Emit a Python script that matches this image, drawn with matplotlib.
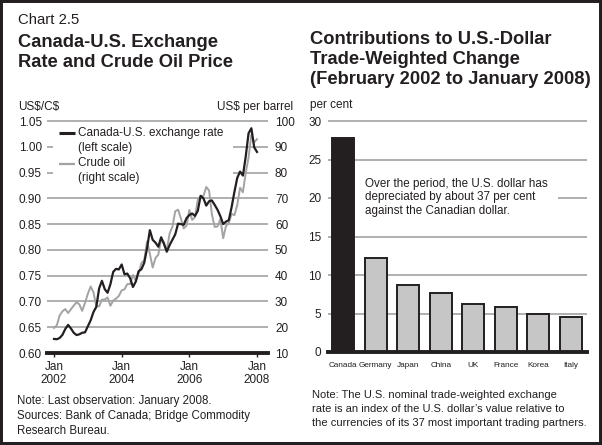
import matplotlib
matplotlib.use('Agg')
import matplotlib.pyplot as plt
import numpy as np
from matplotlib.lines import Line2D
from matplotlib.patches import Rectangle

plt.rcParams['font.family'] = ['Liberation Sans', 'DejaVu Sans']

# ---------------- data ----------------
# monthly, Jan 2002 .. Jan 2008 (index 0..72)
cad_usd = [
    0.6273, 0.6267, 0.6291, 0.6353, 0.6466, 0.6545, 0.6476, 0.6392, 0.6348, 0.6363, 0.6392, 0.6401,
    0.6517, 0.6634, 0.6795, 0.6893, 0.7252, 0.7400, 0.7238, 0.7168, 0.7333, 0.7574, 0.7632, 0.7621,
    0.7717, 0.7526, 0.7541, 0.7451, 0.7280, 0.7384, 0.7586, 0.7624, 0.7749, 0.8030, 0.8383, 0.8195,
    0.8140, 0.8061, 0.8245, 0.8115, 0.7965, 0.8092, 0.8198, 0.8301, 0.8509, 0.8501, 0.8486, 0.8614,
    0.8676, 0.8706, 0.8658, 0.8758, 0.9048, 0.9000, 0.8859, 0.8943, 0.8959, 0.8872, 0.8777, 0.8654,
    0.8502, 0.8548, 0.8577, 0.8831, 0.9128, 0.9398, 0.9519, 0.9441, 0.9810, 1.0261, 1.0360, 0.9990,
    0.9900,
]
crude_oil = [
    19.71, 20.72, 24.53, 26.18, 27.04, 25.52, 26.97, 28.39, 29.66, 28.84, 26.35, 29.46,
    32.95, 35.83, 33.51, 28.17, 28.11, 30.66, 30.76, 31.57, 28.31, 30.34, 31.11, 32.13,
    34.31, 34.69, 36.74, 36.75, 40.28, 38.03, 40.78, 44.90, 45.94, 53.28, 48.47, 43.15,
    46.84, 48.15, 54.19, 52.98, 49.83, 56.35, 59.00, 64.99, 65.59, 62.26, 58.32, 59.41,
    65.49, 61.63, 62.69, 69.44, 70.84, 70.95, 74.41, 73.04, 63.80, 58.89, 59.08, 61.96,
    54.51, 59.28, 60.44, 63.98, 63.46, 67.49, 74.12, 72.36, 79.92, 85.80, 94.77, 91.69,
    92.97,
]
months = np.arange(len(cad_usd))
year_ticks = [0, 24, 48, 72]
year_labels = ['Jan\n2002', 'Jan\n2004', 'Jan\n2006', 'Jan\n2008']
left_ticks = [0.60, 0.65, 0.70, 0.75, 0.80, 0.85, 0.90, 0.95, 1.00, 1.05]
right_ticks = [10, 20, 30, 40, 50, 60, 70, 80, 90, 100]

countries = ['Canada', 'Germany', 'Japan', 'China', 'UK', 'France', 'Korea', 'Italy']
contributions = [27.8, 12.2, 8.7, 7.6, 6.2, 5.8, 4.9, 4.6]
bar_ticks = [0, 5, 10, 15, 20, 25, 30]

# ---------------- style ----------------
W, H = 602, 445
INK = '#231f20'
GRID = '#9a9a9a'
OIL = '#a3a3a3'
BARFILL = '#c6c6c6'
FS = 8.5

fig = plt.figure(figsize=(W / 100, H / 100), dpi=100)
fig.patch.set_facecolor('white')

def fx(x):
    return x / W

def fy(y):
    return 1 - y / H

def ftext(x, y, s, **kw):
    kw.setdefault('color', INK)
    kw.setdefault('fontsize', FS)
    fig.text(fx(x), fy(y), s, **kw)

# frame
fig.add_artist(Rectangle((0, 0), 1, 1, transform=fig.transFigure, fill=False,
                         lw=4.3, ec=INK))

# ---------------- titles ----------------
ftext(18, 24, 'Chart 2.5', fontsize=10.7, va='baseline')
ftext(18, 47, 'Canada-U.S. Exchange', fontsize=13.2, fontweight='bold', va='baseline')
ftext(18, 67, 'Rate and Crude Oil Price', fontsize=13.2, fontweight='bold', va='baseline')

ftext(310, 44.3, 'Contributions to U.S.-Dollar', fontsize=13.2, fontweight='bold', va='baseline')
ftext(310, 64.3, 'Trade-Weighted Change', fontsize=13.2, fontweight='bold', va='baseline')
ftext(310, 84.3, '(February 2002 to January 2008)', fontsize=13.2, fontweight='bold', va='baseline')

# ---------------- left chart ----------------
L, R, T, B = 46.7, 268.0, 121.0, 353.0
ax1 = fig.add_axes([fx(L), fy(B), (R - L) / W, (B - T) / H])
ax2 = ax1.twinx()
ax1.set_zorder(2)
ax2.set_zorder(1)
ax1.patch.set_visible(False)

ax1.set_xlim(-2.59, 75.9)
ax1.set_ylim(0.60, 1.05)
ax2.set_ylim(10, 100)

ytr = ax2.get_yaxis_transform()
for v in right_ticks[1:]:
    if v in (80, 90):
        segs = [(0, 0.03), (0.842, 1.0)]
    else:
        segs = [(0, 1)]
    for a, b in segs:
        ax2.plot([a, b], [v, v], transform=ytr, color=GRID, lw=1.1,
                 solid_capstyle='butt', clip_on=False, zorder=1)

ax2.plot(months, crude_oil, color=OIL, lw=1.4, zorder=2)
ax1.plot(months, cad_usd, color=INK, lw=1.6, zorder=3)

for a in (ax1, ax2):
    for s in a.spines.values():
        s.set_visible(False)
ax1.spines['bottom'].set_visible(True)
ax1.spines['bottom'].set_linewidth(2.8)
ax1.spines['bottom'].set_color(INK)

ax1.set_yticks(left_ticks)
ax1.set_yticklabels(['%.2f' % v for v in left_ticks])
ax1.tick_params(axis='y', length=0, pad=3.4, labelsize=FS, labelcolor=INK)
ax2.set_yticks(right_ticks)
ax2.set_yticklabels([str(v) for v in right_ticks])
ax2.tick_params(axis='y', length=0, pad=5, labelsize=FS, labelcolor=INK)

ax1.set_xticks(year_ticks)
ax1.set_xticklabels(year_labels, linespacing=1.1)
ax1.tick_params(axis='x', direction='out', length=3, width=1, color=INK,
                pad=2.5, labelsize=FS, labelcolor=INK)
ax2.tick_params(axis='x', length=0)

ftext(18, 107, 'US\\$/C\\$', va='center', ha='left')
ftext(293, 107, 'US\\$ per barrel', va='center', ha='right')

# legend
fig.add_artist(Line2D([fx(59.3), fx(75)], [fy(133.3)] * 2, transform=fig.transFigure,
                      color=INK, lw=2.2, solid_capstyle='butt'))
fig.add_artist(Line2D([fx(59.3), fx(75)], [fy(164)] * 2, transform=fig.transFigure,
                      color=OIL, lw=1.6, solid_capstyle='butt'))
ftext(78.3, 133.3, 'Canada-U.S. exchange rate', va='center')
ftext(78.3, 147.5, '(left scale)', va='center')
ftext(78.3, 163.5, 'Crude oil', va='center')
ftext(78.3, 177.5, '(right scale)', va='center')

# notes
ftext(16.7, 400.7, 'Note: Last observation: January 2008.', va='center', fontsize=8.3)
ftext(16.7, 415.7, 'Sources: Bank of Canada; Bridge Commodity', va='center', fontsize=8.3)
ftext(16.7, 430.7, 'Research Bureau.', va='center', fontsize=8.3)

# ---------------- right chart ----------------
L2, R2, T2, B2 = 328.3, 586.7, 121.0, 352.0
ax3 = fig.add_axes([fx(L2), fy(B2), (R2 - L2) / W, (B2 - T2) / H])
ax3.set_xlim(-0.46, 7.49)
ax3.set_ylim(0, 30)
ytr3 = ax3.get_yaxis_transform()
for v in bar_ticks[1:]:
    if v == 20:
        segs = [(0, 0.05), (0.889, 1.0)]
    else:
        segs = [(0, 1)]
    for a, b in segs:
        ax3.plot([a, b], [v, v], transform=ytr3, color=GRID, lw=1.1,
                 solid_capstyle='butt', clip_on=False, zorder=1)

x = np.arange(len(countries))
colors = [INK] + [BARFILL] * (len(countries) - 1)
ax3.bar(x, contributions, width=0.68, color=colors, edgecolor=INK, linewidth=1.4, zorder=3)

for s in ax3.spines.values():
    s.set_visible(False)
ax3.spines['bottom'].set_visible(True)
ax3.spines['bottom'].set_linewidth(2.8)
ax3.spines['bottom'].set_color(INK)
ax3.spines['bottom'].set_zorder(5)

ax3.set_yticks(bar_ticks)
ax3.set_yticklabels([str(v) for v in bar_ticks])
ax3.tick_params(axis='y', length=0, pad=5, labelsize=FS, labelcolor=INK)
ax3.set_xticks(x)
ax3.set_xticklabels(countries)
ax3.tick_params(axis='x', length=0, pad=7, labelsize=5.9, labelcolor=INK)

ftext(310, 105, 'per cent', va='center')
ftext(365, 197.3, 'Over the period, the U.S. dollar has\ndepreciated by about 37 per cent\nagainst the Canadian dollar.',
      va='center', ha='left', linespacing=1.17, fontsize=8.4)

ftext(312, 395, 'Note: The U.S. nominal trade-weighted exchange', va='center', fontsize=8.0)
ftext(312, 409, "rate is an index of the U.S. dollar\u2019s value relative to", va='center', fontsize=8.0)
ftext(312, 422.5, 'the currencies of its 37 most important trading partners.', va='center', fontsize=8.0)

fig.savefig('out.png', dpi=100)
